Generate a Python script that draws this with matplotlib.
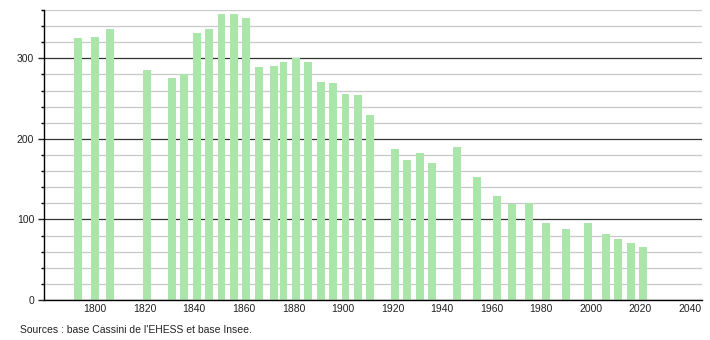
import matplotlib as mpl
import matplotlib.pyplot as plt
import numpy as np
from matplotlib.ticker import MultipleLocator

mpl.rcParams['font.family'] = ['Liberation Sans', 'DejaVu Sans']
mpl.rcParams['font.size'] = 7.5

# census years and population
years = [1793, 1800, 1806, 1821, 1831, 1836, 1841, 1846, 1851, 1856,
         1861, 1866, 1872, 1876, 1881, 1886, 1891, 1896, 1901, 1906,
         1911, 1921, 1926, 1931, 1936, 1946, 1954, 1962, 1968, 1975,
         1982, 1990, 1999, 2006, 2011, 2016, 2021]
pop = [325, 327, 336, 286, 275, 281, 331, 337, 355, 355,
       350, 289, 290, 295, 300, 296, 271, 269, 256, 255,
       230, 188, 174, 183, 170, 190, 153, 129, 119, 121,
       96, 88, 96, 82, 76, 71, 66]
source = "Sources : base Cassini de l'EHESS et base Insee."

fig = plt.figure(figsize=(7.1, 3.4), dpi=100)
ax = fig.add_axes([0.062, 0.1176, 0.9267, 0.853])

ax.bar(years, pop, width=3.2, color='#aae6aa', edgecolor='none', zorder=2)

ax.set_xlim(1779.4, 2044.8)
ax.set_ylim(0, 360)
ax.set_xticks(np.arange(1800, 2041, 20))
ax.yaxis.set_major_locator(MultipleLocator(100))
ax.yaxis.set_minor_locator(MultipleLocator(20))
ax.grid(axis='y', which='minor', color='#c8c8c8', linewidth=0.9, zorder=0)
ax.grid(axis='y', which='major', color='#333333', linewidth=0.9, zorder=1)
ax.set_axisbelow(True)

for s in ['top', 'right']:
    ax.spines[s].set_visible(False)
ax.spines['left'].set_linewidth(1.0)
ax.spines['bottom'].set_linewidth(1.0)
ax.tick_params(axis='x', length=0, pad=3, colors='#222222')
ax.tick_params(axis='y', which='major', length=4, width=1, pad=3, colors='#222222')
ax.tick_params(axis='y', which='minor', length=2, width=1)

fig.text(0.028, 0.022, source, fontsize=7.5, color='#222222')

fig.savefig('out.png', dpi=100)
